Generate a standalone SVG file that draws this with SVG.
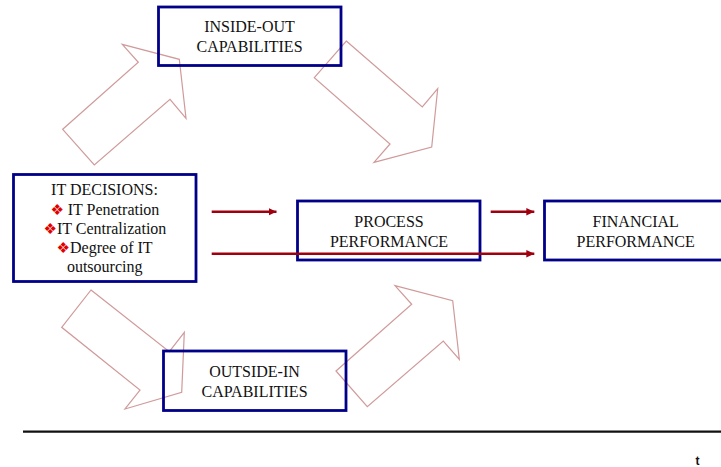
<svg xmlns="http://www.w3.org/2000/svg" width="721" height="467" viewBox="0 0 721 467">
<style>
.box{fill:none;stroke:#000088;stroke-width:2.8}
.big{fill:none;stroke:#D09A9A;stroke-width:1.2;stroke-linejoin:miter}
.t{font-family:"Liberation Serif","Times New Roman",serif;font-size:16px;fill:#111}
.c{text-anchor:middle}
.b{font-family:"DejaVu Sans",sans-serif;font-size:15px;fill:#E00000}
.con{stroke:#A0000E;stroke-width:2.6;fill:none}
</style>
<defs>
<marker id="ah" markerUnits="userSpaceOnUse" markerWidth="9" markerHeight="8" refX="8" refY="4" orient="auto">
<path d="M0,0.3 L8,4 L0,7.7 z" fill="#A0000E"/>
</marker>
</defs>
<rect width="721" height="467" fill="#fff"/>
<g id="big-arrows">
<polygon class="big" points="62.7,129.3 138.3,62.3 122.3,44.3 179.3,59.3 186,118.3 170,99.3 94.3,165"/>
<polygon class="big" points="346.3,41 422.3,107 437.7,88.7 431.7,147 374,162.3 390,144 314.3,77.7"/>
<polygon class="big" points="91,290 169.3,351.7 184.3,332.3 181.7,392.3 125,409 140,390 61.7,327.3"/>
<polygon class="big" points="336,371 411.7,304.3 395,285.7 452.7,300.7 459.3,359.3 443.3,341 367.3,406.7"/>
</g>
<g id="inside-out">
<rect class="box" x="158.5" y="7" width="182.5" height="58.5"/>
<text class="t c" x="249.5" y="32.3">INSIDE-OUT</text>
<text class="t c" x="249.5" y="51.7">CAPABILITIES</text>
</g>
<g id="it-decisions">
<rect class="box" x="13.5" y="174.5" width="182.5" height="107"/>
<text class="t c" x="104.5" y="195">IT DECISIONS:</text>
<text class="b" x="50.5" y="215">❖</text>
<text class="t" x="67.7" y="215">IT Penetration</text>
<text class="b" x="43.5" y="234">❖</text>
<text class="t" x="56.9" y="234">IT Centralization</text>
<text class="b" x="56.6" y="253.3">❖</text>
<text class="t" x="70" y="253.3">Degree of IT</text>
<text class="t c" x="104.7" y="272.3">outsourcing</text>
</g>
<g id="process">
<rect class="box" x="297.5" y="201" width="182.5" height="59"/>
<text class="t c" x="389" y="226.7">PROCESS</text>
<text class="t c" x="389" y="246.7">PERFORMANCE</text>
</g>
<g id="financial">
<rect class="box" x="544.5" y="201" width="182.5" height="59"/>
<text class="t c" x="635.7" y="226.7">FINANCIAL</text>
<text class="t c" x="635.7" y="246.7">PERFORMANCE</text>
</g>
<g id="outside-in">
<rect class="box" x="163.5" y="351" width="182.5" height="59.5"/>
<text class="t c" x="254.5" y="376.7">OUTSIDE-IN</text>
<text class="t c" x="254.5" y="396.7">CAPABILITIES</text>
</g>
<g id="connectors">
<line class="con" x1="211.7" y1="211.7" x2="276.5" y2="211.7" marker-end="url(#ah)"/>
<line class="con" x1="211.7" y1="253.8" x2="534.3" y2="253.8" marker-end="url(#ah)"/>
<line class="con" x1="490.7" y1="211.7" x2="534.3" y2="211.7" marker-end="url(#ah)"/>
</g>
<line x1="23" y1="431.7" x2="721" y2="431.7" stroke="#111" stroke-width="2.2"/>
<text x="695.5" y="465" font-family="Liberation Sans,Arial,sans-serif" font-size="12" font-weight="bold" fill="#111">t</text>
</svg>
